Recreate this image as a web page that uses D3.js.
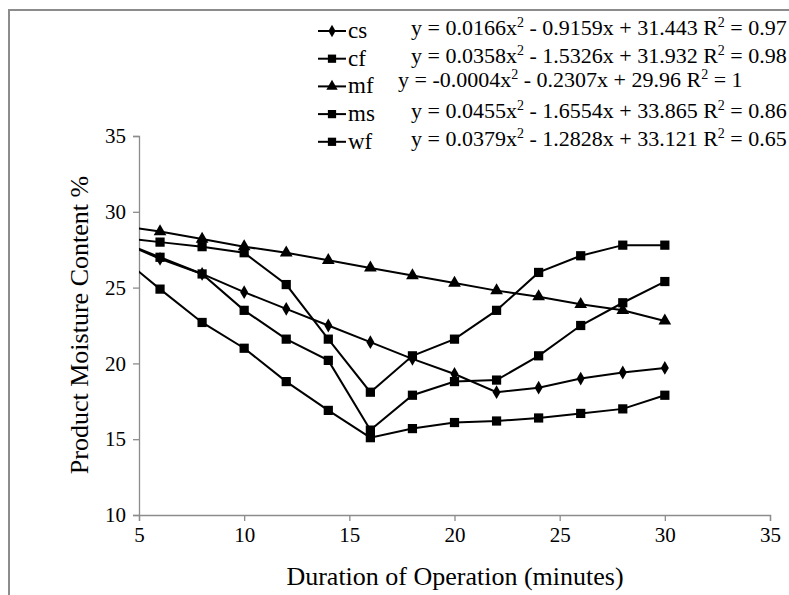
<!DOCTYPE html>
<html lang="en">
<head>
  <meta charset="UTF-8">
  <script src="https://cdnjs.cloudflare.com/ajax/libs/d3/7.8.5/d3.min.js"></script>
  <style>
    body { margin: 0; background: #fff; }
    svg text { fill: #000; font-family: 'Liberation Serif', 'Times New Roman', serif; }
  </style>
  <title>Moisture content</title>
</head>
<body>
  <div id="chart"></div>
<script>
  // minutes of operation (the 4 min point sits left of the axis and is clipped)
  const minutes = [4, 6, 8, 10, 12, 14, 16, 18, 20, 22, 24, 26, 28, 30];
  const cs = [28.1, 26.9, 25.9, 24.7, 23.6, 22.5, 21.4, 20.3, 19.3, 18.1, 18.4, 19.0, 19.4, 19.7];
  const cf = [27.2, 24.9, 22.7, 21.0, 18.8, 16.9, 15.1, 15.7, 16.1, 16.2, 16.4, 16.7, 17.0, 17.9];
  const mf = [29.1, 28.7, 28.2, 27.7, 27.3, 26.8, 26.3, 25.8, 25.3, 24.8, 24.4, 23.9, 23.5, 22.8];
  const ms = [28.1, 27.0, 25.9, 23.5, 21.6, 20.2, 15.6, 17.9, 18.8, 18.9, 20.5, 22.5, 24.0, 25.4];
  const wf = [28.3, 28.0, 27.7, 27.3, 25.2, 21.6, 18.1, 20.5, 21.6, 23.5, 26.0, 27.1, 27.8, 27.8];

  const seriesNames = ["cs", "cf", "mf", "ms", "wf"];
  const seriesSymbols = ["diamond", "square", "triangle", "square", "square"];
  const equations = [
    ["y = 0.0166x", "2", " - 0.9159x + 31.443 R", "2", " = 0.97"],
    ["y = 0.0358x", "2", " - 1.5326x + 31.932 R", "2", " = 0.98"],
    ["y = -0.0004x", "2", " - 0.2307x + 29.96 R", "2", " = 1"],
    ["y = 0.0455x", "2", " - 1.6554x + 33.865 R", "2", " = 0.86"],
    ["y = 0.0379x", "2", " - 1.2828x + 33.121 R", "2", " = 0.65"]
  ];
  const xTicks = [5, 10, 15, 20, 25, 30, 35];
  const yTicks = [10, 15, 20, 25, 30, 35];

  const series = [cs, cf, mf, ms, wf].map((vals, i) => ({
    name: seriesNames[i],
    symbol: seriesSymbols[i],
    values: vals.map((v, j) => ({ x: minutes[j], y: v }))
  }));

  const FONT = "'Liberation Serif', 'Times New Roman', serif";
  const W = 789, H = 595;
  const svg = d3.select("#chart").append("svg")
    .attr("width", W).attr("height", H)
    .attr("font-family", FONT);

  // outer chart frame (runs off the right/bottom edges)
  svg.append("rect")
    .attr("x", 9).attr("y", 10)
    .attr("width", 800).attr("height", 600)
    .attr("fill", "none").attr("stroke", "#8c8c8c").attr("stroke-width", 2);

  var x = d3.scaleLinear().domain([5, 35]).range([139, 770]);
  var y = d3.scaleLinear().domain([10, 35]).range([515, 136]);

  // axes
  var xAxis = svg.append("g")
    .attr("transform", "translate(0," + y(10) + ")")
    .call(d3.axisBottom(x).tickValues(xTicks).tickSize(6).tickPadding(6).tickFormat(d3.format("d")));
  var yAxis = svg.append("g")
    .attr("transform", "translate(" + x(5) + ",0)")
    .call(d3.axisLeft(y).tickValues(yTicks).tickSize(6).tickPadding(7).tickFormat(d3.format("d")));
  [xAxis, yAxis].forEach(a => {
    a.attr("font-family", FONT).attr("font-size", 21);
    a.select(".domain").attr("stroke", "#8c8c8c").attr("stroke-width", 1.3);
    a.selectAll(".tick line").attr("stroke", "#8c8c8c").attr("stroke-width", 1.3);
    a.selectAll(".tick text").attr("fill", "#000");
  });

  // clip to the plot area
  svg.append("clipPath").attr("id", "plot-clip")
    .append("rect")
    .attr("x", x(5)).attr("y", y(35))
    .attr("width", x(35) - x(5)).attr("height", y(10) - y(35));

  const plot = svg.append("g").attr("clip-path", "url(#plot-clip)");

  const line = d3.line().x(d => x(d.x)).y(d => y(d.y));
  const symbolType = { square: d3.symbolSquare, diamond: d3.symbolDiamond, triangle: d3.symbolTriangle };
  const symbolSize = { square: 85, diamond: 55, triangle: 70 };

  series.forEach(s => {
    const g = plot.append("g");
    g.append("path").datum(s.values)
      .attr("fill", "none").attr("stroke", "#000").attr("stroke-width", 2)
      .attr("d", line);
    g.selectAll("path.pt").data(s.values).enter().append("path")
      .attr("class", "pt")
      .attr("transform", d => "translate(" + x(d.x) + "," + y(d.y) + ")")
      .attr("d", d3.symbol().type(symbolType[s.symbol]).size(symbolSize[s.symbol]))
      .attr("fill", "#000");
  });

  // axis titles
  svg.append("text")
    .attr("x", 455).attr("y", 585)
    .attr("text-anchor", "middle")
    .attr("font-size", 26)
    .text("Duration of Operation (minutes)");
  svg.append("text")
    .attr("transform", "translate(88,325) rotate(-90)")
    .attr("text-anchor", "middle")
    .attr("font-size", 26)
    .text("Product Moisture Content %");

  // legend
  const legend = svg.append("g");
  series.forEach((s, i) => {
    const ly = 31 + i * 27.7;
    const row = legend.append("g").attr("transform", "translate(0," + ly + ")");
    row.append("line").attr("x1", 318).attr("x2", 346).attr("y1", 0).attr("y2", 0)
      .attr("stroke", "#000").attr("stroke-width", 2);
    row.append("path").attr("transform", "translate(332,0)")
      .attr("d", d3.symbol().type(symbolType[s.symbol]).size(symbolSize[s.symbol] * 0.8))
      .attr("fill", "#000");
    row.append("text").attr("x", 348).attr("y", 7)
      .attr("font-size", 23).text(s.name);
  });

  // trendline equations
  equations.forEach((eq, i) => {
    const ty = 31 + i * 27.7 + (i === 2 ? 1 : 4);
    const t = svg.append("text")
      .attr("x", i === 2 ? 398 : 411).attr("y", ty)
      .attr("font-size", 22);
    eq.forEach((part, k) => {
      const sup = k % 2 === 1;
      t.append("tspan")
        .attr("font-size", sup ? 14 : 22)
        .attr("dy", sup ? -8 : (k > 0 ? 8 : 0))
        .text(part);
    });
  });
</script>
</body>
</html>
